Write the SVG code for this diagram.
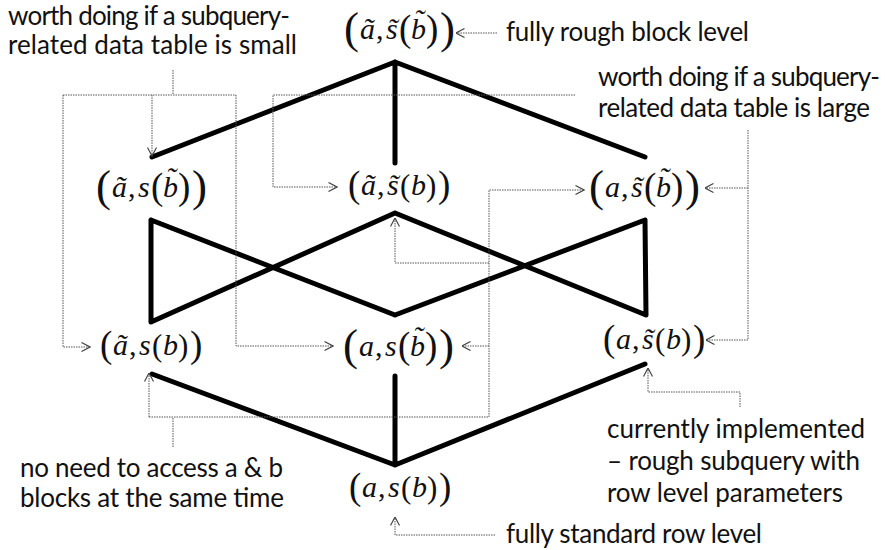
<svg xmlns="http://www.w3.org/2000/svg" width="885" height="550" viewBox="0 0 885 550">
<style>
.m{font-family:"Liberation Serif","DejaVu Serif",serif;fill:#111;font-size:30px}
.i{font-style:italic}
.po{font-size:37px}
.pi{font-size:31px}
.Po{font-size:45px}
.Pi{font-size:37px}
.lbl{font-family:Lato,"Liberation Sans",sans-serif;font-size:26px;fill:#111}
.thick{stroke:#000;stroke-width:5;fill:none;stroke-linecap:round;stroke-linejoin:round}
.dot{stroke:#555;stroke-width:1;fill:none;stroke-dasharray:1.5 1}
.arr{marker-end:url(#ah)}
</style>
<defs>
<marker id="ah" markerUnits="userSpaceOnUse" viewBox="0 0 10 10" refX="9.5" refY="5" markerWidth="10" markerHeight="10" orient="auto">
<path d="M1,0.5 L9.5,5 L1,9.5" fill="none" stroke="#444" stroke-width="1.2"/>
</marker>
</defs>
<rect width="885" height="550" fill="#fff"/>

<g id="edges">
<path class="thick" d="M395,62 L152,157 M395,62 L395,163 M395,62 L645,157"/>
<path class="thick" d="M151,220 L151,322 M151,220 L395,315 M151,322 L395,213 M395,213 L646,315 M395,315 L645,220 M645,220 L646,315"/>
<path class="thick" d="M152,374 L395,465 M395,376 L395,465 M395,465 L645,364"/>
</g>

<g id="connectors">
<path class="dot" d="M173,70 V95 M63,95 H236"/>
<path class="dot arr" d="M152,95 V156"/>
<path class="dot arr" d="M63,95 V347 H90"/>
<path class="dot arr" d="M236,95 V346 H333"/>
<path class="dot arr" d="M575,95 H273 V187 H337"/>
<path class="dot arr" d="M748,130 V340 H706"/>
<path class="dot arr" d="M748,188 H705"/>
<path class="dot" d="M173,447 V417 M149,417 H489"/>
<path class="dot arr" d="M149,417 V373"/>
<path class="dot arr" d="M489,417 V190 H584"/>
<path class="dot arr" d="M489,346 H462"/>
<path class="dot arr" d="M489,263 H395 V218"/>
<path class="dot arr" d="M497,33 H456"/>
<path class="dot arr" d="M495,535 H395 V517"/>
<path class="dot arr" d="M740,407 V392 H648 V368"/>
</g>

<g id="n-top">
<text class="m"><tspan class="Po" x="344" y="43">(</tspan><tspan class="i" x="360" y="39">ã</tspan><tspan x="376" y="39">,</tspan><tspan class="i" x="386" y="39">s</tspan><tspan class="i" x="387.5" y="39">˜</tspan><tspan class="Pi" x="399" y="41">(</tspan><tspan class="i" x="411" y="39">b</tspan><tspan class="i" x="414" y="30">˜</tspan><tspan class="Pi" x="426" y="41">)</tspan><tspan class="Po" x="440" y="43">)</tspan></text>
</g>
<g id="n-mid-left">
<text class="m"><tspan class="Po" x="96" y="201">(</tspan><tspan class="i" x="112" y="197">ã</tspan><tspan x="128" y="197">,</tspan><tspan class="i" x="138" y="197">s</tspan><tspan class="Pi" x="151" y="199">(</tspan><tspan class="i" x="163" y="197">b</tspan><tspan class="i" x="166" y="188">˜</tspan><tspan class="Pi" x="178" y="199">)</tspan><tspan class="Po" x="192" y="201">)</tspan></text>
</g>
<g id="n-mid-center">
<text class="m"><tspan class="po" x="348" y="197">(</tspan><tspan class="i" x="361" y="195">ã</tspan><tspan x="377" y="195">,</tspan><tspan class="i" x="387" y="195">s</tspan><tspan class="i" x="388.5" y="195">˜</tspan><tspan class="pi" x="400" y="196">(</tspan><tspan class="i" x="411" y="195">b</tspan><tspan class="pi" x="426" y="196">)</tspan><tspan class="po" x="438" y="197">)</tspan></text>
</g>
<g id="n-mid-right">
<text class="m"><tspan class="Po" x="589" y="201">(</tspan><tspan class="i" x="605" y="197">a</tspan><tspan x="621" y="197">,</tspan><tspan class="i" x="631" y="197">s</tspan><tspan class="i" x="632.5" y="197">˜</tspan><tspan class="Pi" x="644" y="199">(</tspan><tspan class="i" x="656" y="197">b</tspan><tspan class="i" x="659" y="188">˜</tspan><tspan class="Pi" x="671" y="199">)</tspan><tspan class="Po" x="685" y="201">)</tspan></text>
</g>
<g id="n-bot-left">
<text class="m"><tspan class="po" x="100" y="357">(</tspan><tspan class="i" x="113" y="355">ã</tspan><tspan x="129" y="355">,</tspan><tspan class="i" x="139" y="355">s</tspan><tspan class="pi" x="152" y="356">(</tspan><tspan class="i" x="163" y="355">b</tspan><tspan class="pi" x="178" y="356">)</tspan><tspan class="po" x="190" y="357">)</tspan></text>
</g>
<g id="n-bot-center">
<text class="m"><tspan class="Po" x="343" y="360">(</tspan><tspan class="i" x="359" y="356">a</tspan><tspan x="375" y="356">,</tspan><tspan class="i" x="385" y="356">s</tspan><tspan class="Pi" x="398" y="358">(</tspan><tspan class="i" x="410" y="356">b</tspan><tspan class="i" x="413" y="347">˜</tspan><tspan class="Pi" x="425" y="358">)</tspan><tspan class="Po" x="439" y="360">)</tspan></text>
</g>
<g id="n-bot-right">
<text class="m"><tspan class="po" x="603" y="351">(</tspan><tspan class="i" x="616" y="349">a</tspan><tspan x="632" y="349">,</tspan><tspan class="i" x="642" y="349">s</tspan><tspan class="i" x="643.5" y="349">˜</tspan><tspan class="pi" x="655" y="350">(</tspan><tspan class="i" x="666" y="349">b</tspan><tspan class="pi" x="681" y="350">)</tspan><tspan class="po" x="693" y="351">)</tspan></text>
</g>
<g id="n-bottom">
<text class="m"><tspan class="po" x="349" y="499">(</tspan><tspan class="i" x="362" y="497">a</tspan><tspan x="378" y="497">,</tspan><tspan class="i" x="388" y="497">s</tspan><tspan class="pi" x="401" y="498">(</tspan><tspan class="i" x="412" y="497">b</tspan><tspan class="pi" x="427" y="498">)</tspan><tspan class="po" x="439" y="499">)</tspan></text>
</g>

<g id="labels">
<text class="lbl" x="8" y="25" textLength="282" lengthAdjust="spacing">worth doing if a subquery-</text>
<text class="lbl" x="8" y="54" textLength="289" lengthAdjust="spacing">related data table is small</text>
<text class="lbl" x="506" y="41" textLength="243" lengthAdjust="spacing">fully rough block level</text>
<text class="lbl" x="598" y="86" textLength="282" lengthAdjust="spacing">worth doing if a subquery-</text>
<text class="lbl" x="598" y="117" textLength="272" lengthAdjust="spacing">related data table is large</text>
<text class="lbl" x="20" y="477" textLength="263" lengthAdjust="spacing">no need to access a &amp; b</text>
<text class="lbl" x="20" y="507" textLength="264" lengthAdjust="spacing">blocks at the same time</text>
<text class="lbl" x="607" y="438" textLength="258" lengthAdjust="spacing">currently implemented</text>
<text class="lbl" x="607" y="470" textLength="253" lengthAdjust="spacing">– rough subquery with</text>
<text class="lbl" x="607" y="502" textLength="236" lengthAdjust="spacing">row level parameters</text>
<text class="lbl" x="506" y="543" textLength="256" lengthAdjust="spacing">fully standard row level</text>
</g>
</svg>
